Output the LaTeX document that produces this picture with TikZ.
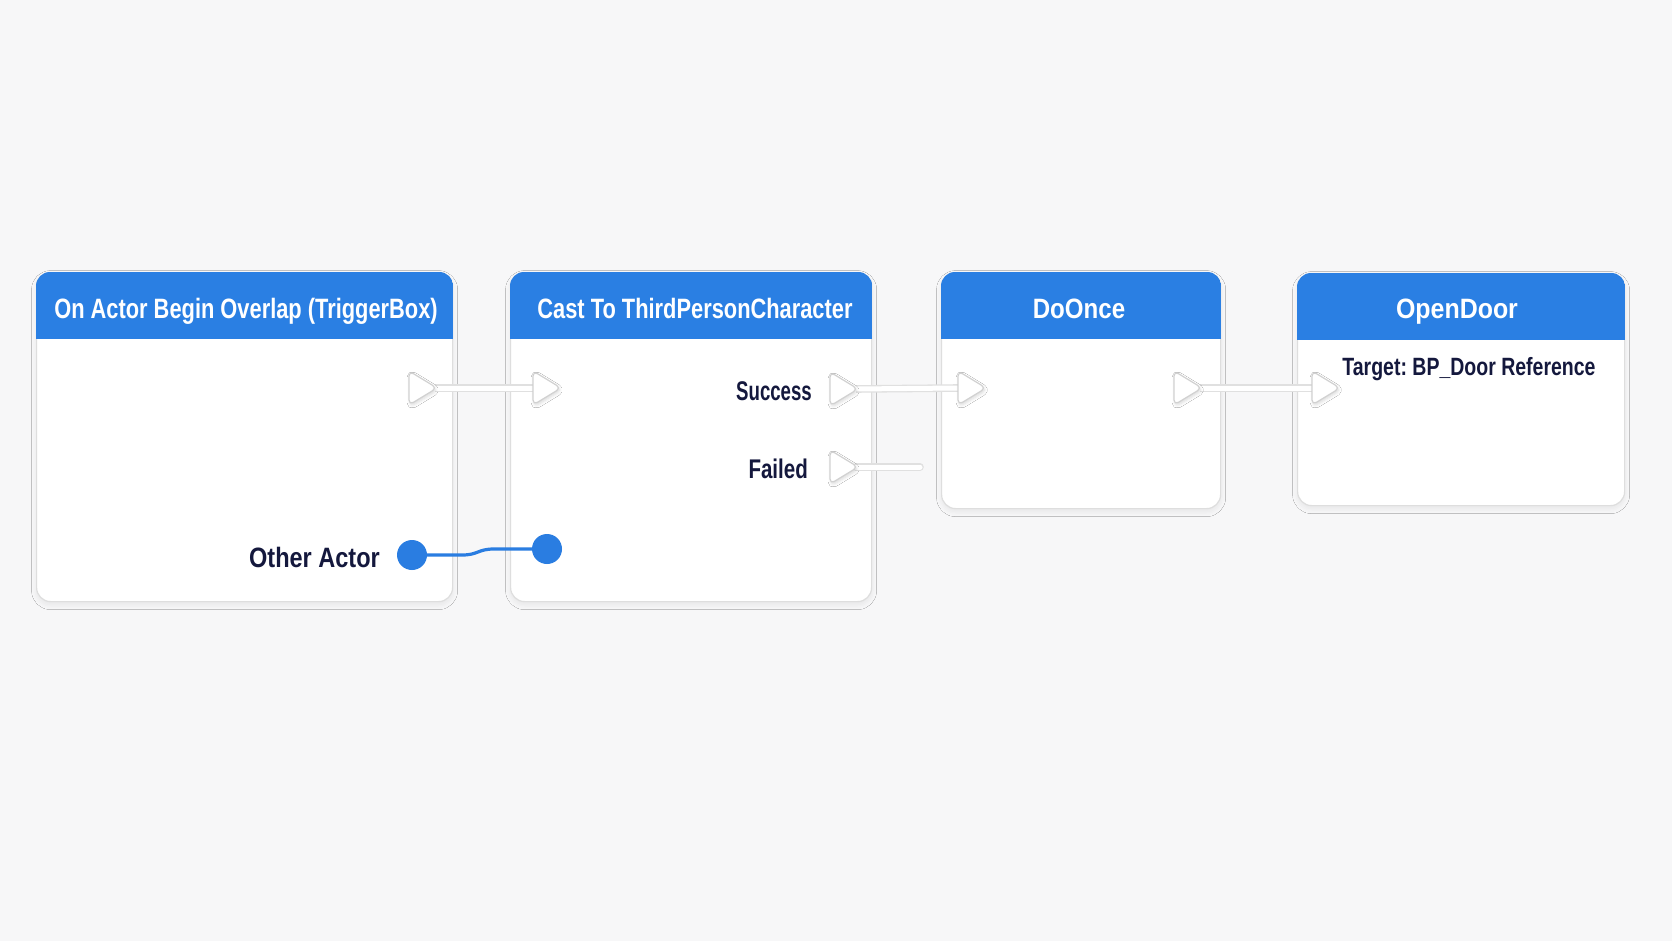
\documentclass[tikz,border=0pt]{standalone}
\usepackage{fontspec}
\usepackage{graphicx}
\setmainfont{Liberation Sans}
\newfontfamily\medfont{Liberation Sans Bold}
\newfontfamily\boldfont{Liberation Sans Bold}
\usetikzlibrary{shadows.blur,calc}
\definecolor{bg}{HTML}{F7F7F8}
\definecolor{hdr}{HTML}{2A7FE3}
\definecolor{pinblue}{HTML}{2A7DE1}
\definecolor{navy}{HTML}{14183D}
\definecolor{boxline}{HTML}{DEDEDE}
\newcommand\hs[2]{\scalebox{#1}[1]{#2}}
\frenchspacing
\tikzset{
  nodebox/.style={rectangle, rounded corners=14pt, fill=white, draw=boxline, line width=1.2pt,
    anchor=north west, inner sep=0pt,
    blur shadow={shadow blur radius=5pt, shadow xshift=0pt, shadow yshift=-3pt, shadow opacity=7, shadow scale=1}},
  title/.style={anchor=base, text=white, inner sep=0pt, font=\medfont\fontsize{28}{32}\selectfont},
  label/.style={anchor=base east, text=navy, inner sep=0pt, font=\boldfont\fontsize{28}{32}\selectfont},
  pinshape/.style={fill=white, draw=black!18, line width=1.2pt, rounded corners=5pt,
    blur shadow={shadow blur radius=3pt, shadow xshift=1pt, shadow yshift=-2pt, shadow opacity=15}},
  execwire/.style={draw=black!12, double=white, double distance=5pt, line width=1.3pt},
  datapin/.style={circle, fill=pinblue, minimum size=30pt, inner sep=0pt},
  datawire/.style={draw=pinblue, line width=3.2pt},
}
\newcommand\execpin[3]{%
  \coordinate (#1) at (#2,#3);
  \path[pinshape] ($(#1)+(0,-17)$) -- ($(#1)+(28,0)$) -- ($(#1)+(0,17)$) -- cycle;
}
\newcommand\header[1]{%
  \begin{scope}
    \clip[rounded corners=14pt] (#1.south west) rectangle (#1.north east);
    \fill[hdr] (#1.north west) rectangle ($(#1.north east)+(0,67)$);
  \end{scope}
}
\begin{document}
\begin{tikzpicture}[x=1pt, y=-1pt]
\useasboundingbox (0,0) rectangle (1672,941);
\fill[bg] (0,0) rectangle (1672,941);

% boxes
\node[nodebox, minimum width=416pt, minimum height=329pt] (b1) at (36,272) {};
\node[nodebox, minimum width=361pt, minimum height=329pt] (b2) at (510,272) {};
\node[nodebox, minimum width=279pt, minimum height=236pt] (b3) at (941,272) {};
\node[nodebox, minimum width=327pt, minimum height=232pt] (b4) at (1297,273) {};
\header{b1}
\header{b2}
\header{b3}
\header{b4}

% titles
\node[title] (t1) at (246,318) {\hs{0.78}{On Actor Begin Overlap (TriggerBox)}};
\node[title] (t2) at (695,318) {\hs{0.78}{Cast To ThirdPersonCharacter}};
\node[title] (t3) at (1079,318) {\hs{0.86}{DoOnce}};
\node[title] (t4) at (1457,318) {\hs{0.89}{OpenDoor}};

% labels
\node[label] (l1) at (380,567) {\hs{0.84}{Other Actor}};
\node[label, font=\boldfont\fontsize{27}{30}\selectfont] (l2) at (812,400) {\hs{0.69}{Success}};
\node[label, font=\boldfont\fontsize{27}{30}\selectfont] (l3) at (808,478) {\hs{0.76}{Failed}};
\node[anchor=base, text=navy, inner sep=0pt, font=\boldfont\fontsize{25}{28}\selectfont] (l4) at (1469,375) {\hs{0.78}{Target: BP\_Door Reference}};

% exec pin positions
\coordinate (p1o) at (409,388);
\coordinate (p2i) at (533,388);
\coordinate (p2s) at (830,389);
\coordinate (p2f) at (830,467);
\coordinate (p3i) at (958,388);
\coordinate (p3o) at (1174,388);
\coordinate (p4i) at (1312,388);
\coordinate (fend) at (920,467);

% exec wires
\draw[execwire] ($(p1o)+(26,0)$) -- (p2i);
\draw[execwire] ($(p2s)+(26,0)$) -- (p3i);
\draw[execwire, line cap=round] ($(p2f)+(26,0)$) -- (fend);
\draw[execwire] ($(p3o)+(26,0)$) -- (p4i);

% exec pins
\execpin{q1o}{409}{388}
\execpin{q2i}{533}{388}
\execpin{q2s}{830}{389}
\execpin{q2f}{830}{467}
\execpin{q3i}{958}{388}
\execpin{q3o}{1174}{388}
\execpin{q4i}{1312}{388}

% data pins and wire
\node[datapin] (d1) at (412,555) {};
\node[datapin] (d2) at (547,549) {};
\draw[datawire] (d1.east) -- ([xshift=35pt]d1.east) .. controls +(16,0) and +(-16,0) .. ([xshift=-38pt]d2.west) -- (d2.west);
\end{tikzpicture}
\end{document}
